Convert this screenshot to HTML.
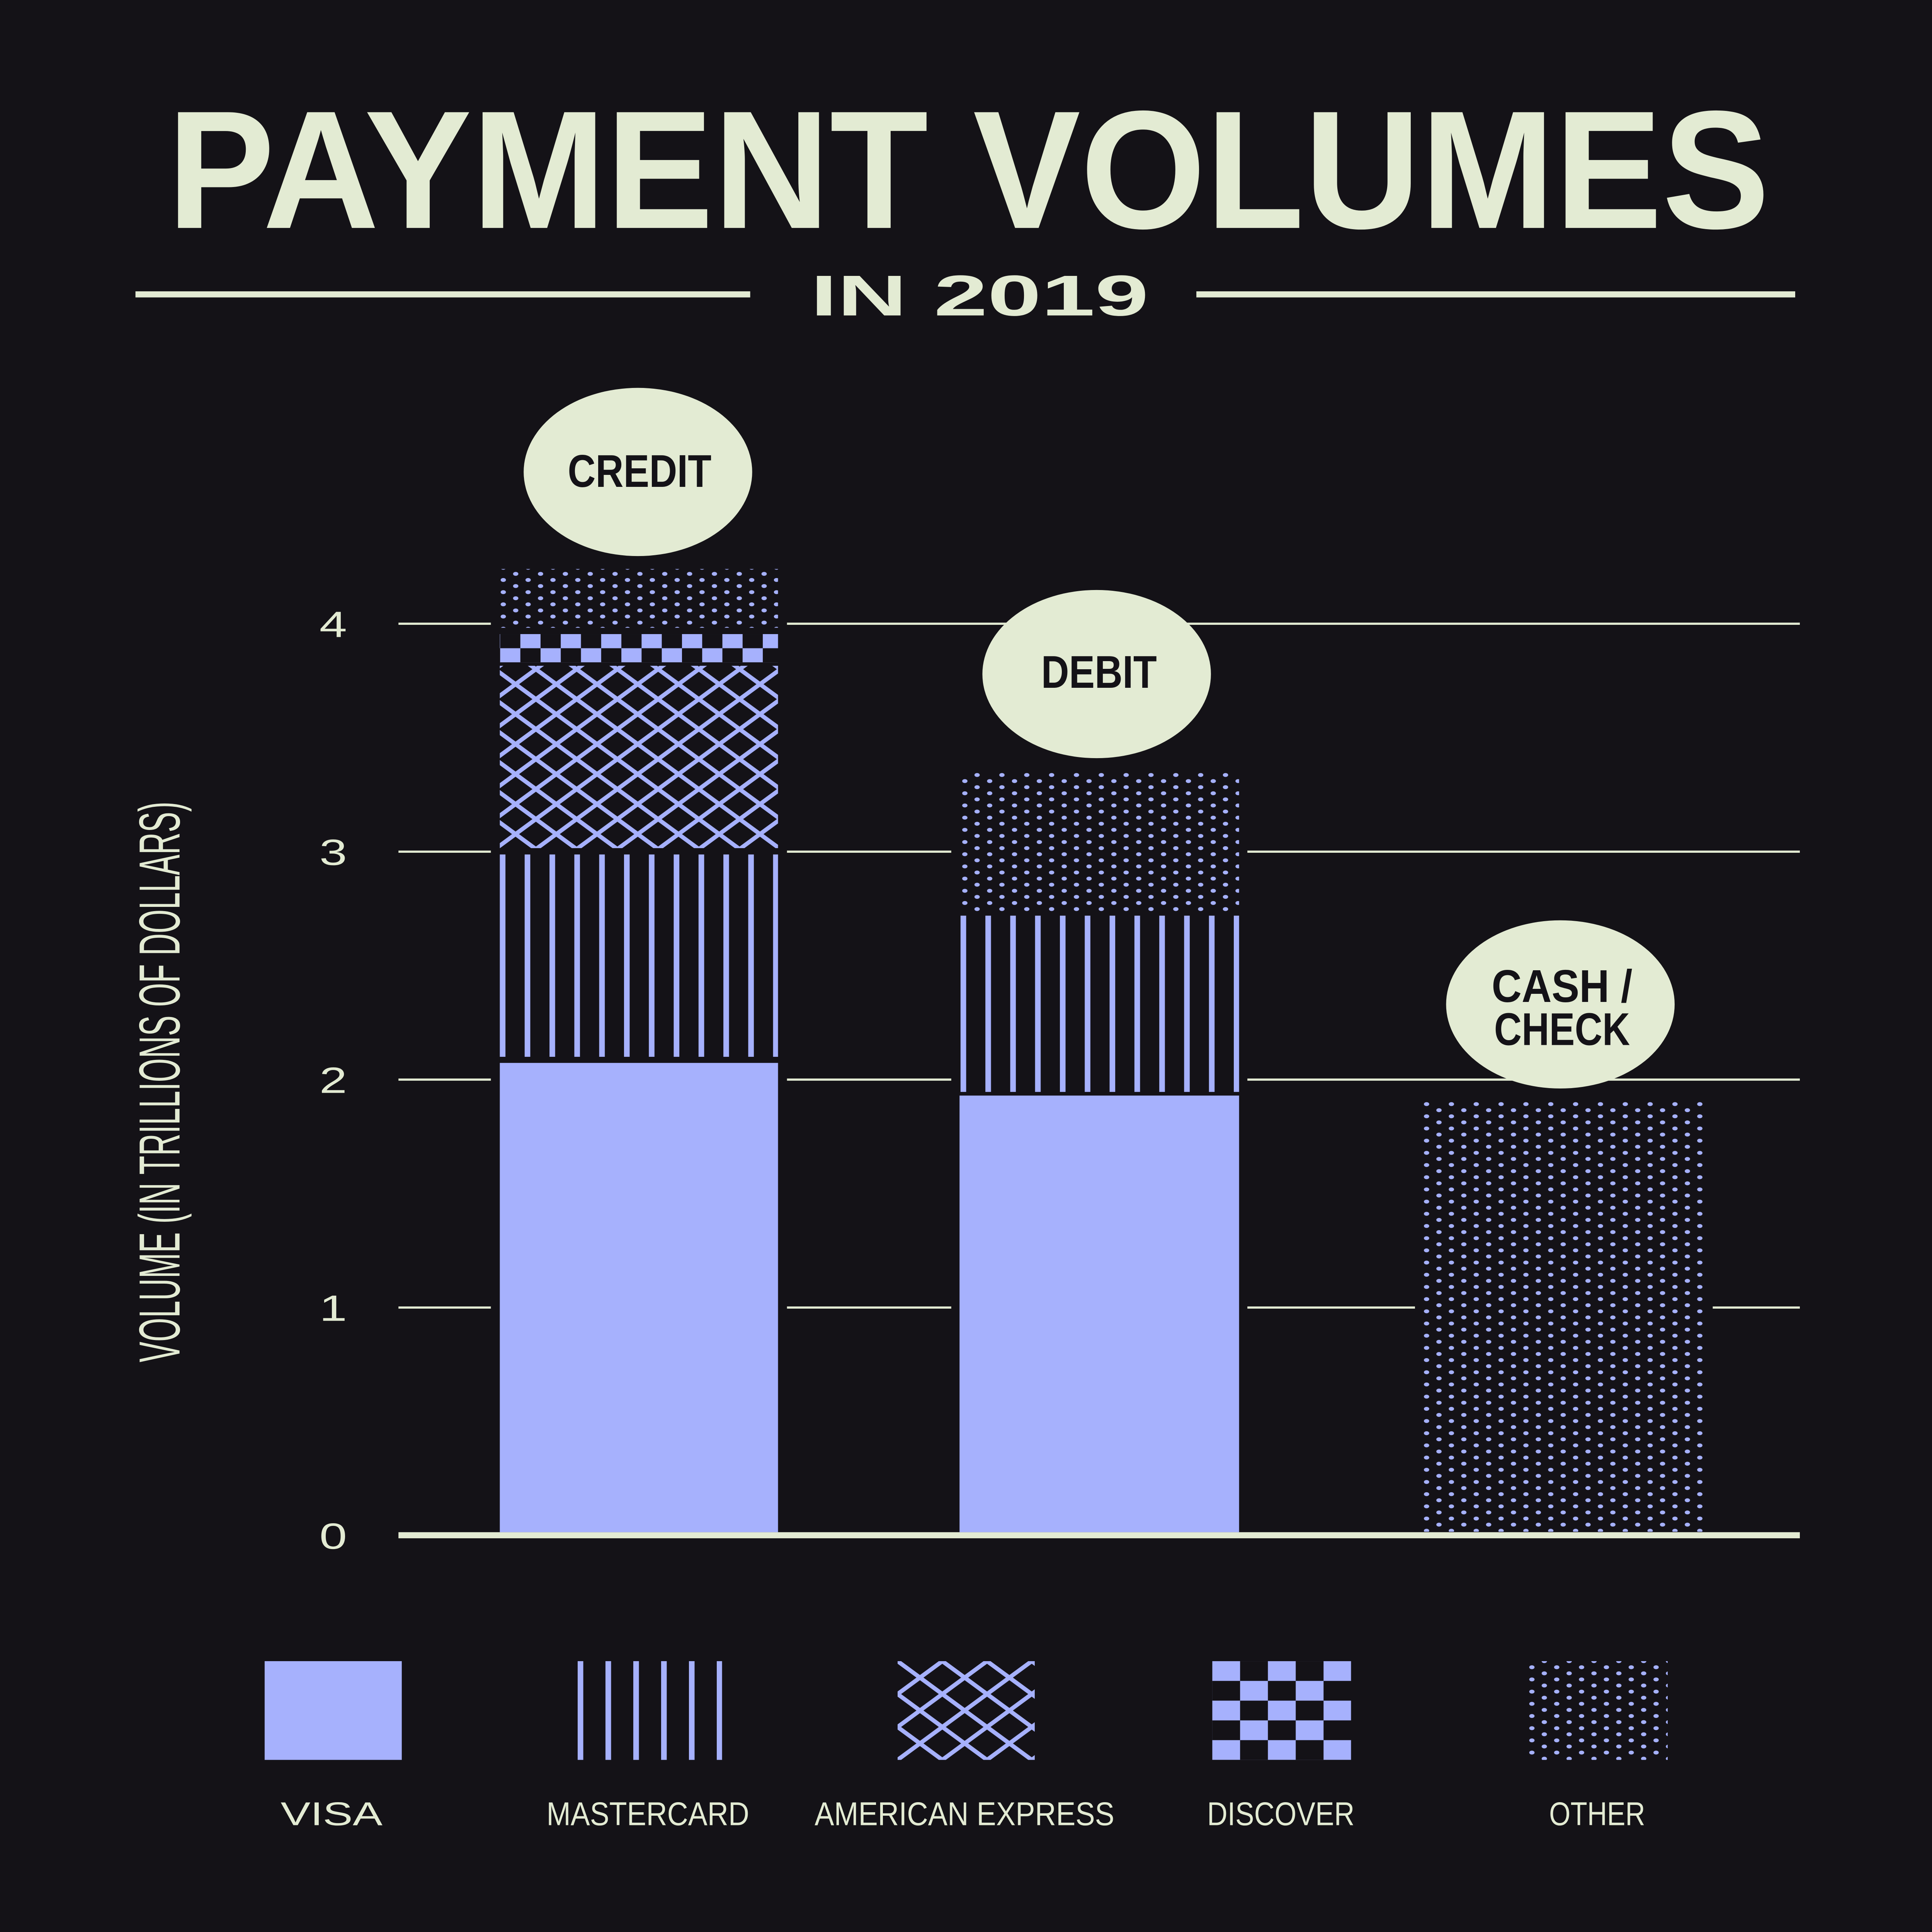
<!DOCTYPE html>
<html><head><meta charset="utf-8"><style>
html,body{margin:0;padding:0;background:#141217;width:100%;height:100%;overflow:hidden;}
svg{display:block;width:100vw;height:100vh;}
text{font-family:"Liberation Sans Narrow","Liberation Sans",sans-serif;}
</style></head><body>
<svg viewBox="0 0 5833 7925" preserveAspectRatio="none" xmlns="http://www.w3.org/2000/svg" overflow="hidden">
<defs>
<pattern id="vl1" patternUnits="userSpaceOnUse" width="75" height="100" patternTransform="translate(1509,0)"><rect x="0" y="0" width="17" height="100" fill="#a6b1fd"/></pattern>
<pattern id="vl2" patternUnits="userSpaceOnUse" width="75" height="100" patternTransform="translate(2900,0)"><rect x="0" y="0" width="17" height="100" fill="#a6b1fd"/></pattern>
<pattern id="vlL" patternUnits="userSpaceOnUse" width="84" height="100" patternTransform="translate(1744,0)"><rect x="0" y="0" width="17" height="100" fill="#a6b1fd"/></pattern>
<pattern id="xh" patternUnits="userSpaceOnUse" width="123" height="123" patternTransform="translate(1495,2745)">
<path d="M0,0L123,123M0,123L123,0M-10,10L10,-10M113,133L133,113M-10,113L10,133M113,-10L133,10" stroke="#a6b1fd" stroke-width="15"/></pattern>
<pattern id="xhL" patternUnits="userSpaceOnUse" width="135" height="135" patternTransform="translate(2710,6814)">
<path d="M0,0L135,135M0,135L135,0M-10,10L10,-10M125,145L145,125M-10,125L10,145M125,-10L145,10" stroke="#a6b1fd" stroke-width="15"/></pattern>
<pattern id="ck" patternUnits="userSpaceOnUse" width="122" height="116" patternTransform="translate(1510,2601)">
<rect x="61" y="0" width="61" height="58" fill="#a6b1fd"/><rect x="0" y="58" width="61" height="58" fill="#a6b1fd"/></pattern>
<pattern id="ckL" patternUnits="userSpaceOnUse" width="168" height="162" patternTransform="translate(3660,6814)">
<rect x="0" y="0" width="84" height="81" fill="#a6b1fd"/><rect x="84" y="81" width="84" height="81" fill="#a6b1fd"/></pattern>
<pattern id="d1" patternUnits="userSpaceOnUse" width="75" height="50" patternTransform="translate(1510,2329)">
<circle cx="47" cy="25" r="8" fill="#a6b1fd"/><circle cx="9.5" cy="50" r="8" fill="#a6b1fd"/><circle cx="9.5" cy="0" r="8" fill="#a6b1fd"/></pattern>
<pattern id="d2" patternUnits="userSpaceOnUse" width="75" height="50" patternTransform="translate(2897,3154)">
<circle cx="53" cy="25" r="8" fill="#a6b1fd"/><circle cx="16" cy="50" r="8" fill="#a6b1fd"/><circle cx="16" cy="0" r="8" fill="#a6b1fd"/></pattern>
<pattern id="d3" patternUnits="userSpaceOnUse" width="75" height="50" patternTransform="translate(4297,4504)">
<circle cx="10" cy="25" r="8" fill="#a6b1fd"/><circle cx="47.5" cy="50" r="8" fill="#a6b1fd"/><circle cx="47.5" cy="0" r="8" fill="#a6b1fd"/></pattern>
<pattern id="dL" patternUnits="userSpaceOnUse" width="75" height="50" patternTransform="translate(4615,6814)">
<circle cx="10" cy="25" r="8" fill="#a6b1fd"/><circle cx="47.5" cy="50" r="8" fill="#a6b1fd"/><circle cx="47.5" cy="0" r="8" fill="#a6b1fd"/></pattern>
</defs>
<rect width="5833" height="7925" fill="#141217"/>
<text x="505" y="935" font-size="690" font-weight="bold" fill="#e3ebd3" textLength="4838" lengthAdjust="spacingAndGlyphs">PAYMENT VOLUMES</text>
<rect x="409" y="1195" width="1856" height="25" fill="#e3ebd3"/>
<rect x="3612" y="1195" width="1808" height="25" fill="#e3ebd3"/>
<text x="2447" y="1294" font-size="236" font-weight="bold" fill="#e3ebd3" textLength="1021" lengthAdjust="spacingAndGlyphs" style="font-family:'Liberation Sans',sans-serif">IN 2019</text>
<g fill="#e3ebd3">
<rect x="1203" y="2554" width="4231" height="9"/>
<rect x="1203" y="3489" width="4231" height="9"/>
<rect x="1203" y="4424" width="4231" height="9"/>
<rect x="1203" y="5359" width="4231" height="9"/>
</g>
<g fill="#141217">
<rect x="1482" y="2300" width="894" height="3985"/>
<rect x="2872" y="3100" width="894" height="3185"/>
<rect x="4272" y="4480" width="899" height="1805"/>
</g>
<rect x="1203" y="6285" width="4231" height="25" fill="#e3ebd3"/>
<g font-size="150" fill="#e3ebd3" text-anchor="middle" style="font-family:'Liberation Sans',sans-serif">
<text x="1006" y="2613">4</text><text x="1006" y="3548">3</text><text x="1006" y="4483">2</text><text x="1006" y="5418">1</text><text x="1006" y="6353">0</text>
</g>
<text transform="translate(542,4438) rotate(-90)" font-size="175" fill="#e3ebd3" text-anchor="middle" textLength="2300" lengthAdjust="spacingAndGlyphs">VOLUME (IN TRILLIONS OF DOLLARS)</text>
<rect x="1509" y="4360" width="840" height="1925" fill="#a6b1fd"/>
<rect x="1509" y="3505" width="840" height="830" fill="url(#vl1)"/>
<rect x="1509" y="2731" width="840" height="748" fill="url(#xh)"/>
<rect x="1509" y="2601" width="840" height="116" fill="url(#ck)"/>
<rect x="1509" y="2334" width="840" height="241" fill="url(#d1)"/>
<rect x="2897" y="4494" width="844" height="1791" fill="#a6b1fd"/>
<rect x="2897" y="3756" width="844" height="723" fill="url(#vl2)"/>
<rect x="2897" y="3170" width="844" height="571" fill="url(#d2)"/>
<rect x="4297" y="4520" width="849" height="1763" fill="url(#d3)"/>
<g fill="#e3ebd3">
<circle cx="1926" cy="1936" r="345"/>
<circle cx="3311" cy="2765" r="345"/>
<circle cx="4711" cy="4120" r="345"/>
</g>
<g font-size="188" fill="#141217" text-anchor="middle" font-weight="600">
<text x="1931" y="1997" textLength="434" lengthAdjust="spacingAndGlyphs">CREDIT</text>
<text x="3318" y="2821" textLength="349" lengthAdjust="spacingAndGlyphs">DEBIT</text>
<text x="4716" y="4110" textLength="425" lengthAdjust="spacingAndGlyphs">CASH /</text>
<text x="4716" y="4287" textLength="410" lengthAdjust="spacingAndGlyphs">CHECK</text>
</g>
<rect x="799" y="6814" width="414" height="405" fill="#a6b1fd"/>
<rect x="1744" y="6814" width="436" height="405" fill="url(#vlL)"/>
<rect x="2710" y="6814" width="414" height="405" fill="url(#xhL)"/>
<rect x="3660" y="6814" width="419" height="405" fill="url(#ckL)"/>
<rect x="4615" y="6814" width="420" height="405" fill="url(#dL)"/>
<g font-size="135" fill="#e3ebd3" text-anchor="middle">
<text x="1001" y="7487">VISA</text>
<text x="1956" y="7487" textLength="612" lengthAdjust="spacingAndGlyphs">MASTERCARD</text>
<text x="2912" y="7487" textLength="905" lengthAdjust="spacingAndGlyphs">AMERICAN EXPRESS</text>
<text x="3867" y="7487" textLength="445" lengthAdjust="spacingAndGlyphs">DISCOVER</text>
<text x="4822" y="7487" textLength="290" lengthAdjust="spacingAndGlyphs">OTHER</text>
</g>
</svg>
</body></html>
